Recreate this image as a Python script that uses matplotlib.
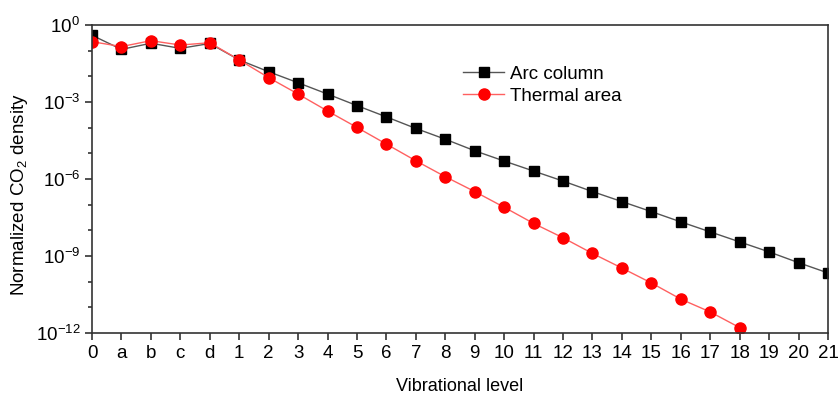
import numpy as np
import matplotlib
matplotlib.use("Agg")
from matplotlib import pyplot as plt
from matplotlib import ticker

plt.rcParams['font.family'] = ['Liberation Sans', 'DejaVu Sans']
plt.rcParams['mathtext.fontset'] = 'custom'
plt.rcParams['mathtext.rm'] = 'Liberation Sans'

levels = ['0', 'a', 'b', 'c', 'd'] + [str(i) for i in range(1, 22)]
# log10 of normalized density
arc_log = [-0.40, -0.95, -0.71, -0.91, -0.72, -1.36, -1.82, -2.25, -2.69, -3.14,
           -3.58, -4.03, -4.45, -4.90, -5.30, -5.69, -6.08, -6.49, -6.88, -7.27,
           -7.67, -8.06, -8.45, -8.84, -9.26, -9.66]
thermal_log = [-0.65, -0.84, -0.61, -0.78, -0.69, -1.36, -2.05, -2.69, -3.35, -3.99,
               -4.64, -5.29, -5.91, -6.49, -7.10, -7.73, -8.29, -8.90, -9.47, -10.05,
               -10.68, -11.18, -11.79]

arc = 10.0 ** np.array(arc_log)
thermal = 10.0 ** np.array(thermal_log)
x = np.arange(len(levels))

fig = plt.figure(figsize=(8.39, 3.94), dpi=100)
ax = fig.add_axes([0.1097, 0.1548, 0.8772, 0.7817])

ax.plot(x, arc, '-', color='#555555', lw=1.0, marker='s', ms=7,
        mfc='black', mec='black', label='Arc column')
ax.plot(x[:len(thermal)], thermal, '-', color='#ff6060', lw=1.0, marker='o', ms=8,
        mfc='red', mec='red', label='Thermal area')

ax.set_yscale('log')
ax.set_ylim(1e-12, 1)
ax.set_xlim(0, len(levels) - 1)
ax.set_xticks(x)
ax.set_xticklabels(levels)
ax.yaxis.set_major_locator(ticker.FixedLocator([10.0 ** k for k in range(-12, 1, 3)]))
ax.yaxis.set_minor_locator(ticker.FixedLocator([10.0 ** k for k in range(-12, 1) if k % 3]))
ax.yaxis.set_major_formatter(ticker.FuncFormatter(lambda v, p: r'$10^{%d}$' % round(np.log10(v))))
ax.yaxis.set_minor_formatter(ticker.NullFormatter())

ax.tick_params(axis='both', which='major', direction='out', length=5, width=1.2,
               labelsize=13.5, colors='#333333', labelcolor='black')
ax.tick_params(axis='y', which='minor', direction='out', length=3, width=1.2, colors='#333333')
for s in ax.spines.values():
    s.set_linewidth(1.2)
    s.set_color('#333333')

ax.set_xlabel('Vibrational level', fontsize=13, labelpad=12)
ax.set_ylabel(r'Normalized CO$_2$ density', fontsize=13.5)
ax.yaxis.set_label_coords(-0.084, 0.45)

ax.legend(loc='upper left', bbox_to_anchor=(0.543, 0.852), bbox_transform=fig.transFigure,
          frameon=False, fontsize=13.5, handlelength=2.2, handletextpad=0.3,
          labelspacing=0.25, borderaxespad=0)

plt.savefig("out.png", dpi=100)
